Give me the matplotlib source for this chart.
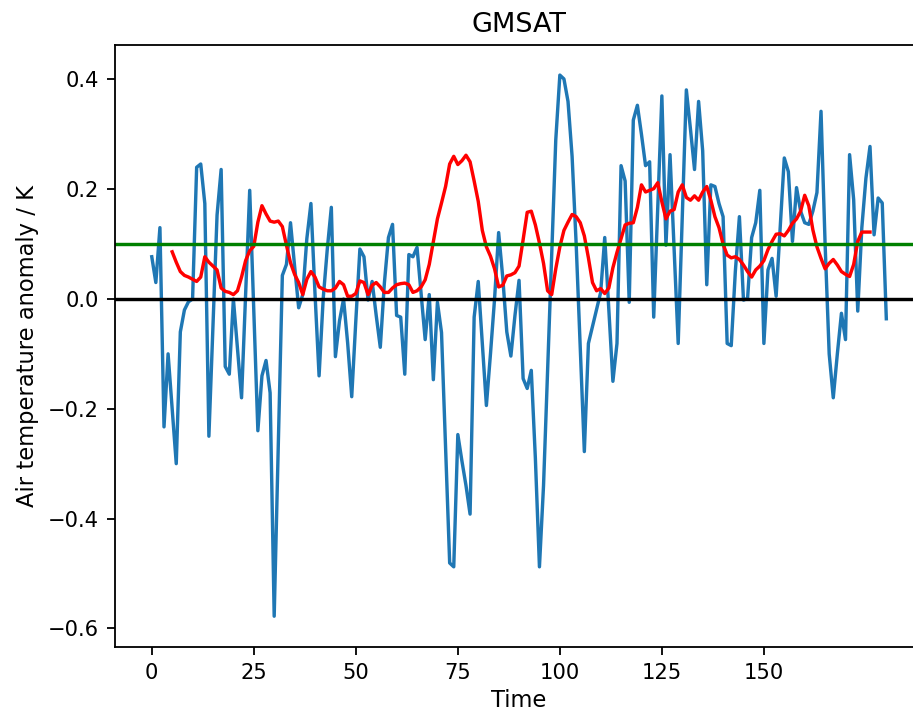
#!/usr/bin/env python
# -*- coding: utf-8 -*-
""" GMSAT anomaly with running mean and reference lines """

import numpy as np
import matplotlib
matplotlib.use("Agg")
import matplotlib.pyplot as plt

DPI = 163

# global mean surface air temperature anomaly (K), one value per time step
gmsat = [
    0.077, 0.030, 0.130, -0.233, -0.100, -0.200, -0.300, -0.060, -0.020, -0.005,
    0.000, 0.240, 0.246, 0.174, -0.250, -0.050, 0.153, 0.236, -0.123, -0.137,
    0.000, -0.090, -0.180, 0.010, 0.198, -0.020, -0.240, -0.140, -0.112, -0.171,
    -0.578, -0.270, 0.043, 0.063, 0.139, 0.060, -0.016, 0.008, 0.110, 0.174,
    0.010, -0.140, 0.000, 0.090, 0.167, -0.105, -0.040, 0.000, -0.080, -0.178,
    -0.040, 0.091, 0.077, -0.002, 0.032, -0.030, -0.088, 0.029, 0.112, 0.136,
    -0.030, -0.033, -0.137, 0.081, 0.077, 0.094, 0.010, -0.074, 0.008, -0.147,
    -0.006, -0.061, -0.270, -0.481, -0.488, -0.247, -0.295, -0.340, -0.392, -0.033,
    0.032, -0.080, -0.194, -0.100, 0.000, 0.121, 0.040, -0.060, -0.104, -0.030,
    0.034, -0.145, -0.163, -0.130, -0.290, -0.488, -0.340, -0.130, 0.080, 0.290,
    0.408, 0.401, 0.360, 0.260, 0.100, -0.090, -0.278, -0.081, -0.050, -0.019,
    0.012, 0.112, -0.020, -0.150, -0.081, 0.243, 0.215, -0.006, 0.326, 0.353,
    0.300, 0.243, 0.250, -0.033, 0.170, 0.370, 0.098, 0.263, 0.090, -0.081,
    0.150, 0.381, 0.310, 0.236, 0.360, 0.270, 0.026, 0.208, 0.205, 0.174,
    0.150, -0.081, -0.085, 0.050, 0.150, -0.002, 0.001, 0.112, 0.139, 0.198,
    -0.081, 0.053, 0.074, 0.005, 0.130, 0.257, 0.232, 0.105, 0.203, 0.160,
    0.139, 0.136, 0.160, 0.194, 0.342, 0.100, -0.100, -0.180, -0.100, -0.026,
    -0.074, 0.263, 0.181, -0.022, 0.130, 0.220, 0.278, 0.117, 0.184, 0.175,
    -0.036,
]

# running statistic (red curve), starts at time step 5
running_start = 5
running = [
    0.086, 0.067, 0.050, 0.043, 0.040, 0.036, 0.032, 0.040, 0.077, 0.067,
    0.060, 0.053, 0.020, 0.014, 0.012, 0.008, 0.015, 0.040, 0.070, 0.088,
    0.096, 0.140, 0.170, 0.155, 0.142, 0.140, 0.142, 0.132, 0.098, 0.066,
    0.045, 0.030, 0.008, 0.036, 0.050, 0.040, 0.022, 0.018, 0.015, 0.015,
    0.020, 0.032, 0.026, 0.005, 0.005, 0.010, 0.033, 0.030, 0.008, 0.025,
    0.030, 0.022, 0.012, 0.012, 0.020, 0.026, 0.028, 0.029, 0.026, 0.012,
    0.015, 0.022, 0.035, 0.063, 0.105, 0.146, 0.175, 0.205, 0.246, 0.260,
    0.245, 0.252, 0.262, 0.250, 0.215, 0.178, 0.125, 0.095, 0.078, 0.055,
    0.022, 0.025, 0.042, 0.044, 0.048, 0.060, 0.108, 0.158, 0.160, 0.135,
    0.102, 0.065, 0.015, 0.008, 0.055, 0.095, 0.125, 0.140, 0.154, 0.150,
    0.139, 0.115, 0.075, 0.030, 0.015, 0.019, 0.010, 0.020, 0.057, 0.085,
    0.110, 0.135, 0.138, 0.139, 0.167, 0.208, 0.195, 0.198, 0.201, 0.212,
    0.177, 0.146, 0.160, 0.163, 0.195, 0.208, 0.185, 0.180, 0.188, 0.180,
    0.195, 0.205, 0.180, 0.150, 0.130, 0.100, 0.080, 0.075, 0.077, 0.072,
    0.062, 0.050, 0.040, 0.053, 0.060, 0.070, 0.090, 0.105, 0.118, 0.119,
    0.115, 0.125, 0.138, 0.146, 0.160, 0.189, 0.170, 0.126, 0.095, 0.074,
    0.055, 0.065, 0.072, 0.062, 0.050, 0.045, 0.041, 0.063, 0.105, 0.122,
    0.122, 0.122,
]

threshold = 0.1


def main():
    time = np.arange(len(gmsat))
    time_run = np.arange(running_start, running_start + len(running))

    fig = plt.figure(figsize=(913 / DPI, 716 / DPI), dpi=DPI)
    # axes run past the right edge of the picture, as in the reference
    ax = fig.add_axes([0.126, 0.0957, 0.885, 0.8408])

    ax.plot(time, gmsat)
    ax.plot(time_run, running, 'r')
    ax.axhline(0.0, color='k')
    ax.axhline(threshold, color='g')

    ax.set_xlim([-9, 189])
    ax.set_ylim([-0.635, 0.462])
    ax.set_xticks([0, 25, 50, 75, 100, 125, 150])
    ax.set_yticks([-0.6, -0.4, -0.2, 0.0, 0.2, 0.4])
    ax.tick_params(labelsize=9.3)
    ax.set_title("GMSAT")
    ax.set_xlabel("Time", labelpad=2.5)
    ax.set_ylabel("Air temperature anomaly / K")

    fig.savefig("out.png", dpi=DPI)


if __name__ == '__main__':
    main()
